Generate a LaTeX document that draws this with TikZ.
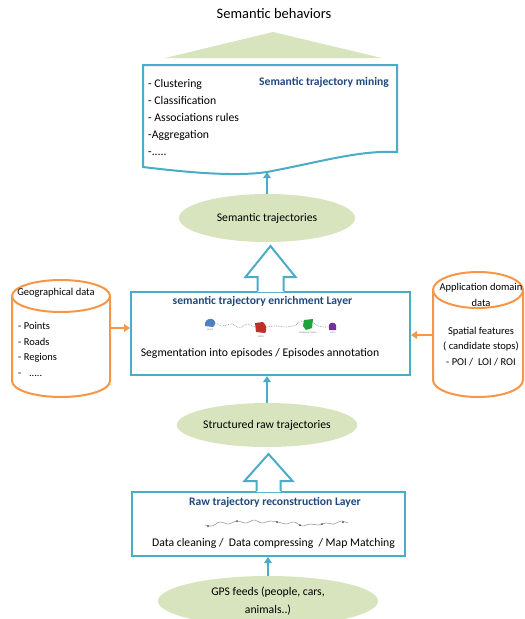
\documentclass[tikz,border=0pt]{standalone}
\usepackage{fontspec}
\setmainfont{Carlito}
\usetikzlibrary{shapes.geometric,calc,arrows.meta}
\definecolor{layerblue}{HTML}{4BACC6}
\definecolor{srcorange}{HTML}{F79646}
\definecolor{stagegreen}{HTML}{D7E4BD}
\definecolor{titleblue}{HTML}{1F497D}
\definecolor{blobblue}{HTML}{4F81BD}
\definecolor{blobred}{HTML}{C0302A}
\definecolor{blobgreen}{HTML}{21A33C}
\definecolor{blobpurple}{HTML}{7030A0}
\begin{document}
\begin{tikzpicture}[x=1pt,y=-1pt,
  layer/.style={draw=layerblue, line width=2pt, fill=white, rectangle, inner sep=0pt},
  stage/.style={ellipse, fill=stagegreen, inner sep=0pt, align=center,
                font=\fontsize{11.7}{18}\selectfont},
  flow/.style={draw=layerblue, line width=2.2pt, -{Triangle[length=6pt,width=7.5pt]}},
  feed/.style={draw=srcorange, line width=2.2pt, -{Triangle[length=6pt,width=7.5pt]}},
  bigarrow/.style={draw=layerblue, line width=2pt, line join=miter},
  datastore/.style={draw=srcorange, line width=2pt},
  body/.style={font=\fontsize{11.7}{17}\selectfont, inner sep=0pt, align=left},
  layertitle/.style={font=\fontsize{11.6}{13}\selectfont\bfseries, text=titleblue, inner sep=0pt},
  storetext/.style={font=\fontsize{10.5}{15.5}\selectfont, inner sep=0pt},
  tinylabel/.style={font=\fontsize{2.6}{3}\selectfont, text=gray, inner sep=0pt},
  track/.style={draw=gray!80, densely dotted, line width=0.7pt},
]
\useasboundingbox (0,0) rectangle (525,619);

% ---------- top: semantic behaviors ----------
\node[font=\fontsize{14.5}{17}\selectfont, inner sep=0pt] (behaviors) at (274,14) {Semantic behaviors};
\fill[stagegreen] (165,58) -- (273,32) -- (382,58) -- cycle;

% ---------- semantic trajectory mining (document shape) ----------
\draw[layer] (143,65) -- (397,65) -- (397,152)
  .. controls (360,150) and (320,162) .. (267,172)
  .. controls (240,176) and (200,174) .. (143,167) -- cycle;
\coordinate (docbot) at (267,172);
% multi-line nodes are placed by the baseline of their last line
\node[body, anchor=base west] (tasks) at (148,155)
  {- Clustering\\- Classification\\- Associations rules\\-Aggregation\\-.....};
\node[layertitle, anchor=base west] (miningtitle) at (259,85) {Semantic trajectory mining};

% ---------- semantic trajectories ----------
\node[stage, minimum width=176pt, minimum height=48pt] (semtraj) at (267,218) {Semantic trajectories};
\draw[flow] (semtraj.north) -- (docbot);

% ---------- enrichment layer ----------
\node[layer, minimum width=279pt, minimum height=83pt] (enrich) at (270.5,333.5) {};
\node[layertitle] (enrichtitle) at (262.5,301) {semantic trajectory enrichment Layer};
\node[body] (enrichtext) at (260,353) {Segmentation into episodes / Episodes annotation};

% hollow arrow from the enrichment layer to the semantic trajectories
\fill[white] ($(enrich.north)+(-13,1)$) -- ++(0,-15) -- ++(-12,0) -- ($(enrich.north)+(0,-45)$)
  -- ($(enrich.north)+(25,-14)$) -- ++(-12,0) -- ++(0,15) -- cycle;
\draw[bigarrow] ($(enrich.north)+(-13,0)$) -- ++(0,-14) -- ++(-12,0) -- ($(enrich.north)+(0,-45)$)
  -- ($(enrich.north)+(25,-14)$) -- ++(-12,0) -- ++(0,14);

% episode sketch: stops joined by moves
\draw[track] plot[smooth] coordinates {(214,322) (222,326) (232,324) (240,328) (247,324) (255,327)};
\draw[track] plot[smooth] coordinates {(266,327) (276,326) (286,327) (296,325) (300,321) (304,322)};
\draw[track] plot[smooth] coordinates {(313,322) (318,326) (324,327) (329,327)};
\fill[blobblue] (205,326) .. controls (204,321) and (208,318) .. (212,319)
  .. controls (216,320) and (216,325) .. (213,327) -- cycle;
\fill[blobred] (255,323) -- (263,322) .. controls (267,325) and (267,331) .. (265,333)
  -- (256,332) -- cycle;
\fill[blobgreen] (304,320) -- (313,319) -- (312,328) -- (306,330) -- (303,326) -- cycle;
\fill[blobpurple] (329,330) -- (329,325) .. controls (330,322) and (335,322) .. (336,325)
  -- (336,330) -- cycle;
\node[tinylabel] (homelbl) at (210,330) {Home};
\node[tinylabel] (worklbl) at (261,337) {Work};
\node[tinylabel] (shoplbl) at (308,333) {Shopping Center};
\node[tinylabel] (gymlbl) at (333,333) {Gym};

% ---------- geographical data store ----------
\fill[white] (12,296) -- (12,381) arc[start angle=180, end angle=360, x radius=49pt, y radius=16pt] -- (110,296) -- cycle;
\draw[datastore] (12,296) -- (12,381) arc[start angle=180, end angle=360, x radius=49pt, y radius=16pt] -- (110,296);
\draw[datastore] (61,296) ellipse[x radius=49pt, y radius=16pt];
\node[storetext] (geotitle) at (56,293) {Geographical data};
\node[storetext, align=left, anchor=base west] (geoitems) at (18,376)
  {- Points\\- Roads\\- Regions\\-\enspace\ .....};
\coordinate (geoout) at (110,328);
\draw[feed] (geoout) -- (geoout -| enrich.west);

% ---------- application domain store ----------
\fill[white] (433,290) -- (433,380) arc[start angle=180, end angle=360, x radius=45pt, y radius=17pt] -- (523,290) -- cycle;
\draw[datastore] (433,290) -- (433,380) arc[start angle=180, end angle=360, x radius=45pt, y radius=17pt] -- (523,290);
\draw[datastore] (478,290) ellipse[x radius=45pt, y radius=18pt];
\node[storetext, align=center, anchor=base] (apptitle) at (481,306) {Application domain\\data};
\node[storetext, align=center, anchor=base] (appitems) at (481,365)
  {Spatial features\\( candidate stops)\\- POI /\ \ LOI / ROI};
\coordinate (appout) at (433,335);
\draw[feed] (appout) -- (appout -| enrich.east);

% ---------- structured raw trajectories ----------
\node[stage, minimum width=176pt, minimum height=44pt] (structured) at (267,425) {Structured raw trajectories};
\draw[flow] (structured.north) -- (structured.north |- enrich.south);

% ---------- raw trajectory reconstruction layer ----------
\node[layer, minimum width=273pt, minimum height=64pt] (raw) at (268.5,524) {};
\node[layertitle] (rawtitle) at (275,502) {Raw trajectory reconstruction Layer};
\node[body] (rawtext) at (273.5,543) {Data cleaning /\ \ Data compressing\ \ / Map Matching};

% hollow arrow from the raw layer to the structured trajectories
\fill[white] ($(raw.north)+(-12,1)$) -- ++(0,-11) -- ++(-12,0) -- ($(raw.north)+(0,-37)$)
  -- ($(raw.north)+(24,-10)$) -- ++(-12,0) -- ++(0,11) -- cycle;
\draw[bigarrow] ($(raw.north)+(-12,0)$) -- ++(0,-10) -- ++(-12,0) -- ($(raw.north)+(0,-37)$)
  -- ($(raw.north)+(24,-10)$) -- ++(-12,0) -- ++(0,10);

% raw GPS track sketch
\draw[gray!75, line width=0.6pt] plot[smooth] coordinates
  {(205,525) (212,526) (220,522) (228,524) (237,521) (246,523) (254,520) (262,523)
   (270,521) (278,522) (286,524) (294,522) (302,526) (310,524) (318,525) (326,523)
   (334,524) (341,521) (348,523)};
\foreach \px/\py in {208/526, 237/521, 277/522, 300/525, 322/524, 343/522}
  \fill[gray!60!black] (\px,\py) circle (1pt);

% ---------- GPS feeds ----------
\node[stage, minimum width=220pt, minimum height=50pt] (gps) at (268,601)
  {GPS feeds (people, cars,\\animals..)};
\draw[flow] (gps.north) -- (gps.north |- raw.south);

\end{tikzpicture}
\end{document}
